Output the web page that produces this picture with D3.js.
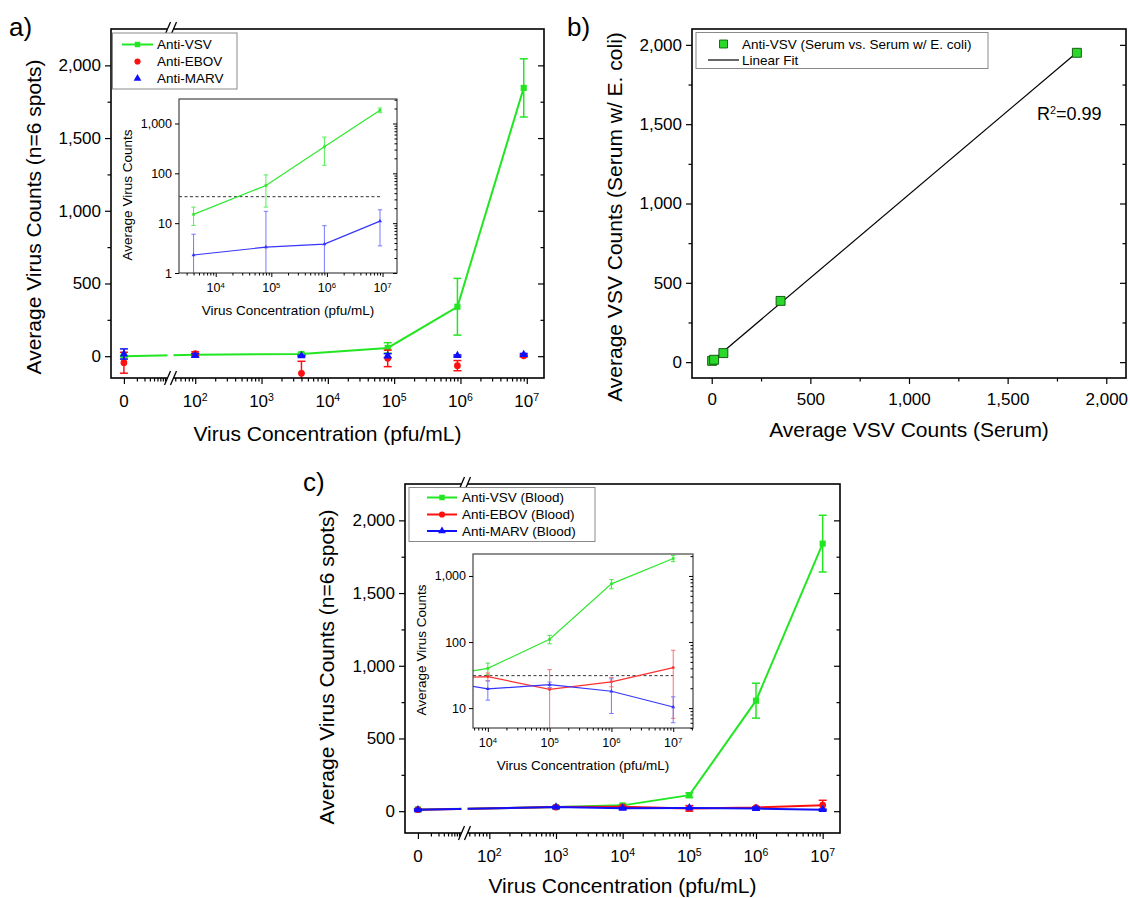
<!DOCTYPE html>
<html>
<head>
<meta charset="utf-8">
<script src="https://cdnjs.cloudflare.com/ajax/libs/d3/7.8.5/d3.min.js"></script>
<style>
body { margin: 0; background: #fff; }
</style>
</head>
<body>
<svg id="fig" width="1130" height="898"></svg>
<script>
// ---- data ----
// a) serum
var concA = [0, 100, 4000, 80000, 900000, 9000000];
var vsvA = [0, 10, 15, 57, 340, 1845];
var vsvSdA = [5, 8, 6, 36, 195, 200];
var ebovA = [-45, 18, -118, -15, -65, 3];
var ebovSdA = [72, 12, 83, 57, 35, 8];
var marvA = [15, 5, 2.3, 3.3, 3.8, 11];
var marvSdA = [35, 12, 3.7, 14, 5.1, 7.5];
var cutoffA = 34;

// b) serum vs serum w/ E. coli
var serumB = [2, 12, 59, 349, 1851];
var coliB = [8, 15, 57, 386, 1950];
var r2Text = "=0.99";

// c) blood
var concC = [0, 1000, 10000, 100000, 1000000, 10000000];
var vsvC = [12, 28, 40, 110, 760, 1840];
var vsvSdC = [6, 5, 8, 16, 120, 195];
var ebovC = [10, 28, 30, 19.2, 25, 41];
var ebovSdC = [5, 5, 4, 19, 4, 34];
var marvC = [10, 28, 19.5, 22.6, 18, 10.4];
var marvSdC = [5, 5, 6.3, 2.2, 9.7, 4.4];
var cutoffC = 31;

// ticks
var countTicks = [0, 500, 1000, 1500, 2000];
var countMinor = [250, 750, 1250, 1750];
var decadeTicks = [1e2, 1e3, 1e4, 1e5, 1e6, 1e7];
var insetXTicks = [1e4, 1e5, 1e6, 1e7];
var insetYTicksA = [1, 10, 100, 1000];
var insetYTicksC = [10, 100, 1000];

var font = "'Liberation Sans', Arial, Helvetica, sans-serif";
var green = "#22e622", red = "#ff1010", blue = "#1010ff";
var fig = d3.select("#fig").attr("font-family", font);

function minorLog(lo, hi) {
    var out = [];
    for (var e = Math.floor(Math.log10(lo)); e <= Math.ceil(Math.log10(hi)); e++) {
        for (var k = 2; k < 10; k++) {
            var v = k * Math.pow(10, e);
            if (v >= lo && v <= hi) out.push(v);
        }
    }
    return out;
}

function styleAxis(sel, size) {
    sel.select(".domain").remove();
    sel.attr("font-family", font).attr("font-size", size);
    sel.selectAll(".tick line").attr("stroke", "#000").attr("stroke-width", 1.2);
    sel.selectAll(".tick text").attr("fill", "#000");
}

function powerLabels(g, scale, values, yBase, size) {
    var lab = g.append("g")
        .attr("font-size", size)
        .attr("text-anchor", "middle")
        .selectAll(null).data(values).enter().append("text")
        .attr("x", function (d) { return scale(d); })
        .attr("y", yBase);
    lab.append("tspan").text("10");
    lab.append("tspan").attr("dy", "-0.55em").attr("font-size", "0.62em")
        .text(function (d) { return Math.round(Math.log10(d)); });
}

function legend(o) {
    var g = fig.append("g");
    g.append("rect").attr("x", o.x).attr("y", o.y).attr("width", o.w).attr("height", o.h)
        .attr("fill", "#fff").attr("stroke", "#8a8a8a").attr("stroke-width", 1);
    o.rows.forEach(function (r, i) {
        var yy = o.rowY[i];
        if (r.line) {
            g.append("line").attr("x1", o.sx0).attr("x2", o.sx1).attr("y1", yy).attr("y2", yy)
                .attr("stroke", r.color).attr("stroke-width", r.lw || 2);
        }
        if (r.shape) {
            g.append("path").attr("transform", "translate(" + ((o.sx0 + o.sx1) / 2) + "," + yy + ")")
                .attr("d", d3.symbol().type(r.shape).size(r.size || 34))
                .attr("fill", r.color).attr("stroke", r.stroke || "none").attr("stroke-width", 0.8);
        }
        g.append("text").attr("x", o.tx).attr("y", yy + 4.8).attr("font-size", 13.5).text(r.label);
    });
}

function errorBars(plot, xs, ys, vals, sds, color, width, cap, floor) {
    var eb = plot.append("g").attr("stroke", color).attr("stroke-width", width);
    var lo = function (i) { var v = vals[i] - sds[i]; return ys(floor ? Math.max(v, floor) : v); };
    var hi = function (i) { return ys(vals[i] + sds[i]); };
    var idx = d3.range(vals.length);
    eb.selectAll(null).data(idx).enter().append("line")
        .attr("x1", xs).attr("x2", xs).attr("y1", lo).attr("y2", hi);
    eb.selectAll(null).data(idx).enter().append("line")
        .attr("x1", function (i) { return xs(i) - cap; }).attr("x2", function (i) { return xs(i) + cap; })
        .attr("y1", lo).attr("y2", lo);
    eb.selectAll(null).data(idx).enter().append("line")
        .attr("x1", function (i) { return xs(i) - cap; }).attr("x2", function (i) { return xs(i) + cap; })
        .attr("y1", hi).attr("y2", hi);
}

// main panel with broken log x axis (0 | 10^2 ... 10^7)
function brokenPanel(o) {
    var L = o.L, R = o.R, T = o.T, B = o.B;
    var xl = d3.scaleLog().domain([Math.pow(10, -0.3), 10]).range([L, L + 56]);
    var xr = d3.scaleLog().domain([Math.pow(10, 1.68), Math.pow(10, 7.26)]).range([L + 63, R]);
    var xp = function (c) { return c === 0 ? xl(1) : xr(c); };
    var y = d3.scaleLinear().domain([-150, 2250]).range([B, T]);
    var g = fig.append("g");

    g.append("clipPath").attr("id", o.id).append("rect")
        .attr("x", L).attr("y", T).attr("width", R - L).attr("height", B - T);
    var plot = g.append("g").attr("clip-path", "url(#" + o.id + ")");

    o.series.forEach(function (s) {
        if (s.line) {
            plot.append("path").datum(o.conc)
                .attr("fill", "none").attr("stroke", s.color).attr("stroke-width", 2)
                .attr("d", d3.line()
                    .x(function (c) { return xp(c); })
                    .y(function (c, i) { return y(s.values[i]); }));
        }
        errorBars(plot, function (i) { return xp(o.conc[i]); }, y, s.values, s.sd, s.color, 1.5, 4);
        plot.selectAll(null).data(o.conc).enter().append("path")
            .attr("transform", function (c, i) { return "translate(" + xp(c) + "," + y(s.values[i]) + ")"; })
            .attr("d", d3.symbol().type(s.shape).size(s.size))
            .attr("fill", s.color);
    });

    g.append("rect").attr("x", L).attr("y", T).attr("width", R - L).attr("height", B - T)
        .attr("fill", "none").attr("stroke", "#000").attr("stroke-width", 1.6);

    // axis break
    g.append("rect").attr("x", L + 56.5).attr("y", T - 4).attr("width", 6).attr("height", B - T + 8).attr("fill", "#fff");
    [T, B].forEach(function (yy) {
        [L + 56.5, L + 62.5].forEach(function (xx) {
            g.append("line").attr("x1", xx - 3).attr("x2", xx + 3).attr("y1", yy + 7).attr("y2", yy - 7)
                .attr("stroke", "#000").attr("stroke-width", 1.3);
        });
    });

    // y axes
    g.append("g").attr("transform", "translate(" + L + ",0)")
        .call(d3.axisLeft(y).tickValues(countTicks).tickSize(6).tickPadding(4).tickFormat(d3.format(",")))
        .call(styleAxis, 17);
    g.append("g").attr("transform", "translate(" + L + ",0)")
        .call(d3.axisLeft(y).tickValues(countMinor).tickSize(3.5).tickFormat(""))
        .call(styleAxis, 17);
    g.append("g").attr("transform", "translate(" + R + ",0)")
        .call(d3.axisLeft(y).tickValues(countTicks).tickSize(6).tickFormat(""))
        .call(styleAxis, 17);
    g.append("g").attr("transform", "translate(" + R + ",0)")
        .call(d3.axisLeft(y).tickValues(countMinor).tickSize(3.5).tickFormat(""))
        .call(styleAxis, 17);

    // x axes
    var bx = g.append("g").attr("transform", "translate(0," + B + ")");
    bx.append("g").call(d3.axisBottom(xr).tickValues(decadeTicks).tickSize(6).tickFormat("")).call(styleAxis, 17);
    bx.append("g").call(d3.axisBottom(xr).tickValues(minorLog(Math.pow(10, 1.68), Math.pow(10, 7.26))).tickSize(3.5).tickFormat("")).call(styleAxis, 17);
    bx.append("g").call(d3.axisBottom(xl).tickValues([1]).tickSize(6).tickFormat("")).call(styleAxis, 17);
    bx.append("g").call(d3.axisBottom(xl).tickValues([2, 3, 4, 5, 6, 7, 8, 9]).tickSize(3.5).tickFormat("")).call(styleAxis, 17);
    g.append("text").attr("x", xl(1)).attr("y", B + 29).attr("text-anchor", "middle").attr("font-size", 17).text("0");
    powerLabels(g, xr, decadeTicks, B + 29, 17);

    g.append("text").attr("x", (L + R) / 2).attr("y", o.xTitleY).attr("text-anchor", "middle")
        .attr("font-size", 21).text("Virus Concentration (pfu/mL)");
    g.append("text").attr("transform", "translate(" + o.yTitleX + "," + o.yTitleY + ") rotate(-90)")
        .attr("text-anchor", "middle").attr("font-size", 21).text("Average Virus Counts (n=6 spots)");
}

// log-log inset
function insetPanel(o) {
    var x = d3.scaleLog().domain(o.xDomain).range([o.L, o.R]);
    var y = d3.scaleLog().domain(o.yDomain).range([o.B, o.T]);
    var g = fig.append("g");
    g.append("rect").attr("x", o.L).attr("y", o.T).attr("width", o.R - o.L).attr("height", o.B - o.T).attr("fill", "#fff");
    g.append("clipPath").attr("id", o.id).append("rect")
        .attr("x", o.L).attr("y", o.T).attr("width", o.R - o.L).attr("height", o.B - o.T);
    var plot = g.append("g").attr("clip-path", "url(#" + o.id + ")");

    plot.append("line").attr("x1", o.L).attr("x2", x(o.cutoffEnd))
        .attr("y1", y(o.cutoff)).attr("y2", y(o.cutoff))
        .attr("stroke", "#333").attr("stroke-width", 1).attr("stroke-dasharray", "3,2.5");

    var idx = d3.range(o.conc.length).filter(function (i) { return o.conc[i] >= o.minConc; });
    o.series.forEach(function (s) {
        var vals = idx.map(function (i) { return s.values[i]; });
        var sds = idx.map(function (i) { return s.sd[i]; });
        var cs = idx.map(function (i) { return o.conc[i]; });
        errorBars(plot, function (j) { return x(cs[j]); }, y, vals, sds, s.errColor, 1, 2.2, o.yDomain[0] * 0.5);
        plot.append("path").datum(cs)
            .attr("fill", "none").attr("stroke", s.color).attr("stroke-width", 1.2)
            .attr("d", d3.line()
                .x(function (c) { return x(c); })
                .y(function (c, j) { return y(vals[j]); }));
        plot.selectAll(null).data(cs).enter().append("path")
            .attr("transform", function (c, j) { return "translate(" + x(c) + "," + y(vals[j]) + ")"; })
            .attr("d", d3.symbol().type(s.shape).size(7))
            .attr("fill", s.color);
    });

    g.append("rect").attr("x", o.L).attr("y", o.T).attr("width", o.R - o.L).attr("height", o.B - o.T)
        .attr("fill", "none").attr("stroke", "#444").attr("stroke-width", 1.2);

    g.append("g").attr("transform", "translate(" + o.L + ",0)")
        .call(d3.axisLeft(y).tickValues(o.yTicks).tickSize(4).tickPadding(3).tickFormat(d3.format(",")))
        .call(styleAxis, 12.5);
    g.append("g").attr("transform", "translate(" + o.R + ",0)")
        .call(d3.axisLeft(y).tickValues(o.yTicks).tickSize(4).tickFormat(""))
        .call(styleAxis, 12.5);
    g.append("g").attr("transform", "translate(" + o.R + ",0)")
        .call(d3.axisLeft(y).tickValues(minorLog(o.yDomain[0], o.yDomain[1])).tickSize(2.5).tickFormat(""))
        .call(styleAxis, 12.5);
    g.append("g").attr("transform", "translate(0," + o.B + ")")
        .call(d3.axisBottom(x).tickValues(insetXTicks).tickSize(4).tickFormat(""))
        .call(styleAxis, 12.5);
    g.append("g").attr("transform", "translate(0," + o.B + ")")
        .call(d3.axisBottom(x).tickValues(minorLog(o.xDomain[0], o.xDomain[1])).tickSize(2.5).tickFormat(""))
        .call(styleAxis, 12.5);
    g.selectAll(".tick line").attr("stroke-width", 1);
    powerLabels(g, x, insetXTicks, o.B + 19, 12.5);

    g.append("text").attr("x", (o.L + o.R) / 2).attr("y", o.B + 42).attr("text-anchor", "middle")
        .attr("font-size", 13.5).text("Virus Concentration (pfu/mL)");
    g.append("text").attr("transform", "translate(" + (o.L - 47) + "," + ((o.T + o.B) / 2 + 9) + ") rotate(-90)")
        .attr("text-anchor", "middle").attr("font-size", 13.5).text("Average Virus Counts");
}

// ---------- panel a ----------
brokenPanel({
    id: "clipA", L: 111, R: 544, T: 29, B: 378, conc: concA,
    xTitleY: 441, yTitleX: 41, yTitleY: 217,
    series: [
        { values: vsvA, sd: vsvSdA, color: green, shape: d3.symbolSquare, size: 38, line: true },
        { values: ebovA, sd: ebovSdA, color: red, shape: d3.symbolCircle, size: 36, line: false },
        { values: marvA, sd: marvSdA, color: blue, shape: d3.symbolTriangle, size: 30, line: false }
    ]
});
legend({
    x: 112.5, y: 33, w: 124.5, h: 56, rowY: [44.5, 61.5, 78.5], sx0: 122, sx1: 153, tx: 157,
    rows: [
        { label: "Anti-VSV", color: green, shape: d3.symbolSquare, size: 30, line: true },
        { label: "Anti-EBOV", color: red, shape: d3.symbolCircle, size: 30 },
        { label: "Anti-MARV", color: blue, shape: d3.symbolTriangle, size: 26 }
    ]
});
insetPanel({
    id: "clipAi", L: 179, R: 397, T: 99, B: 273,
    xDomain: [Math.pow(10, 3.34), Math.pow(10, 7.26)], yDomain: [1, 3100], yTicks: insetYTicksA,
    conc: concA, minConc: 1000, cutoff: cutoffA, cutoffEnd: concA[concA.length - 1],
    series: [
        { values: vsvA, sd: vsvSdA, color: "#2ee82e", errColor: "#55ee55", shape: d3.symbolSquare },
        { values: marvA, sd: marvSdA, color: "#3535ff", errColor: "#7878ff", shape: d3.symbolTriangle }
    ]
});

// ---------- panel b ----------
(function () {
    var L = 692, R = 1126, T = 29, B = 378;
    var x = d3.scaleLinear().domain([-100, 2100]).range([L, R]);
    var y = d3.scaleLinear().domain([-100, 2100]).range([B, T]);
    var g = fig.append("g");

    var mx = d3.mean(serumB), my = d3.mean(coliB);
    var slope = d3.sum(serumB, function (v, i) { return (v - mx) * (coliB[i] - my); }) /
        d3.sum(serumB, function (v) { return (v - mx) * (v - mx); });
    var icpt = my - slope * mx;
    var fitX = d3.extent(serumB);
    g.append("line")
        .attr("x1", x(fitX[0])).attr("y1", y(icpt + slope * fitX[0]))
        .attr("x2", x(fitX[1])).attr("y2", y(icpt + slope * fitX[1]))
        .attr("stroke", "#000").attr("stroke-width", 1.2);

    g.selectAll(null).data(serumB).enter().append("path")
        .attr("transform", function (d, i) { return "translate(" + x(d) + "," + y(coliB[i]) + ")"; })
        .attr("d", d3.symbol().type(d3.symbolSquare).size(80))
        .attr("fill", "#2bd92b").attr("stroke", "#0b4d0b").attr("stroke-width", 0.9);

    g.append("rect").attr("x", L).attr("y", T).attr("width", R - L).attr("height", B - T)
        .attr("fill", "none").attr("stroke", "#000").attr("stroke-width", 1.6);

    g.append("g").attr("transform", "translate(" + L + ",0)")
        .call(d3.axisLeft(y).tickValues(countTicks).tickSize(6).tickPadding(4).tickFormat(d3.format(",")))
        .call(styleAxis, 17);
    g.append("g").attr("transform", "translate(" + L + ",0)")
        .call(d3.axisLeft(y).tickValues(countMinor).tickSize(3.5).tickFormat(""))
        .call(styleAxis, 17);
    g.append("g").attr("transform", "translate(" + R + ",0)")
        .call(d3.axisLeft(y).tickValues(countTicks).tickSize(6).tickFormat(""))
        .call(styleAxis, 17);
    g.append("g").attr("transform", "translate(" + R + ",0)")
        .call(d3.axisLeft(y).tickValues(countMinor).tickSize(3.5).tickFormat(""))
        .call(styleAxis, 17);
    g.append("g").attr("transform", "translate(0," + B + ")")
        .call(d3.axisBottom(x).tickValues(countTicks).tickSize(6).tickPadding(9).tickFormat(d3.format(",")))
        .call(styleAxis, 17);
    g.append("g").attr("transform", "translate(0," + B + ")")
        .call(d3.axisBottom(x).tickValues(countMinor).tickSize(3.5).tickFormat(""))
        .call(styleAxis, 17);

    var r2 = g.append("text").attr("x", 1037).attr("y", 120).attr("font-size", 18);
    r2.append("tspan").text("R");
    r2.append("tspan").attr("dy", "-0.55em").attr("font-size", "0.6em").text("2");
    r2.append("tspan").attr("dy", "0.33em").text(r2Text);

    g.append("text").attr("x", (L + R) / 2).attr("y", 437).attr("text-anchor", "middle")
        .attr("font-size", 21).text("Average VSV Counts (Serum)");
    g.append("text").attr("transform", "translate(622,217) rotate(-90)")
        .attr("text-anchor", "middle").attr("font-size", 21).text("Average VSV Counts (Serum w/ E. coli)");
})();
legend({
    x: 696, y: 32.5, w: 292, h: 36, rowY: [44, 60], sx0: 708, sx1: 739, tx: 742,
    rows: [
        { label: "Anti-VSV (Serum vs. Serum w/ E. coli)", color: "#2bd92b", stroke: "#0b4d0b", shape: d3.symbolSquare, size: 64 },
        { label: "Linear Fit", color: "#000", line: true, lw: 1.2 }
    ]
});

// ---------- panel c ----------
brokenPanel({
    id: "clipC", L: 405, R: 840, T: 484, B: 833, conc: concC,
    xTitleY: 893, yTitleX: 334, yTitleY: 667,
    series: [
        { values: vsvC, sd: vsvSdC, color: green, shape: d3.symbolSquare, size: 38, line: true },
        { values: ebovC, sd: ebovSdC, color: red, shape: d3.symbolCircle, size: 36, line: true },
        { values: marvC, sd: marvSdC, color: blue, shape: d3.symbolTriangle, size: 30, line: true }
    ]
});
legend({
    x: 409, y: 487.5, w: 186, h: 54, rowY: [497.5, 514.5, 531], sx0: 427, sx1: 457, tx: 462,
    rows: [
        { label: "Anti-VSV (Blood)", color: green, shape: d3.symbolSquare, size: 30, line: true },
        { label: "Anti-EBOV (Blood)", color: red, shape: d3.symbolCircle, size: 30, line: true },
        { label: "Anti-MARV (Blood)", color: blue, shape: d3.symbolTriangle, size: 26, line: true }
    ]
});
insetPanel({
    id: "clipCi", L: 473, R: 693, T: 554, B: 728,
    xDomain: [Math.pow(10, 3.76), Math.pow(10, 7.32)], yDomain: [5, 2150], yTicks: insetYTicksC,
    conc: concC, minConc: 1000, cutoff: cutoffC, cutoffEnd: concC[concC.length - 1],
    series: [
        { values: vsvC, sd: vsvSdC, color: "#2ee82e", errColor: "#44e844", shape: d3.symbolSquare },
        { values: ebovC, sd: ebovSdC, color: "#ff3030", errColor: "#ff7070", shape: d3.symbolCircle },
        { values: marvC, sd: marvSdC, color: "#3535ff", errColor: "#7878ff", shape: d3.symbolTriangle }
    ]
});

// panel letters
fig.append("text").attr("x", 9).attr("y", 36).attr("font-size", 26).text("a)");
fig.append("text").attr("x", 567).attr("y", 36).attr("font-size", 26).text("b)");
fig.append("text").attr("x", 303).attr("y", 491).attr("font-size", 26).text("c)");
</script>
</body>
</html>
